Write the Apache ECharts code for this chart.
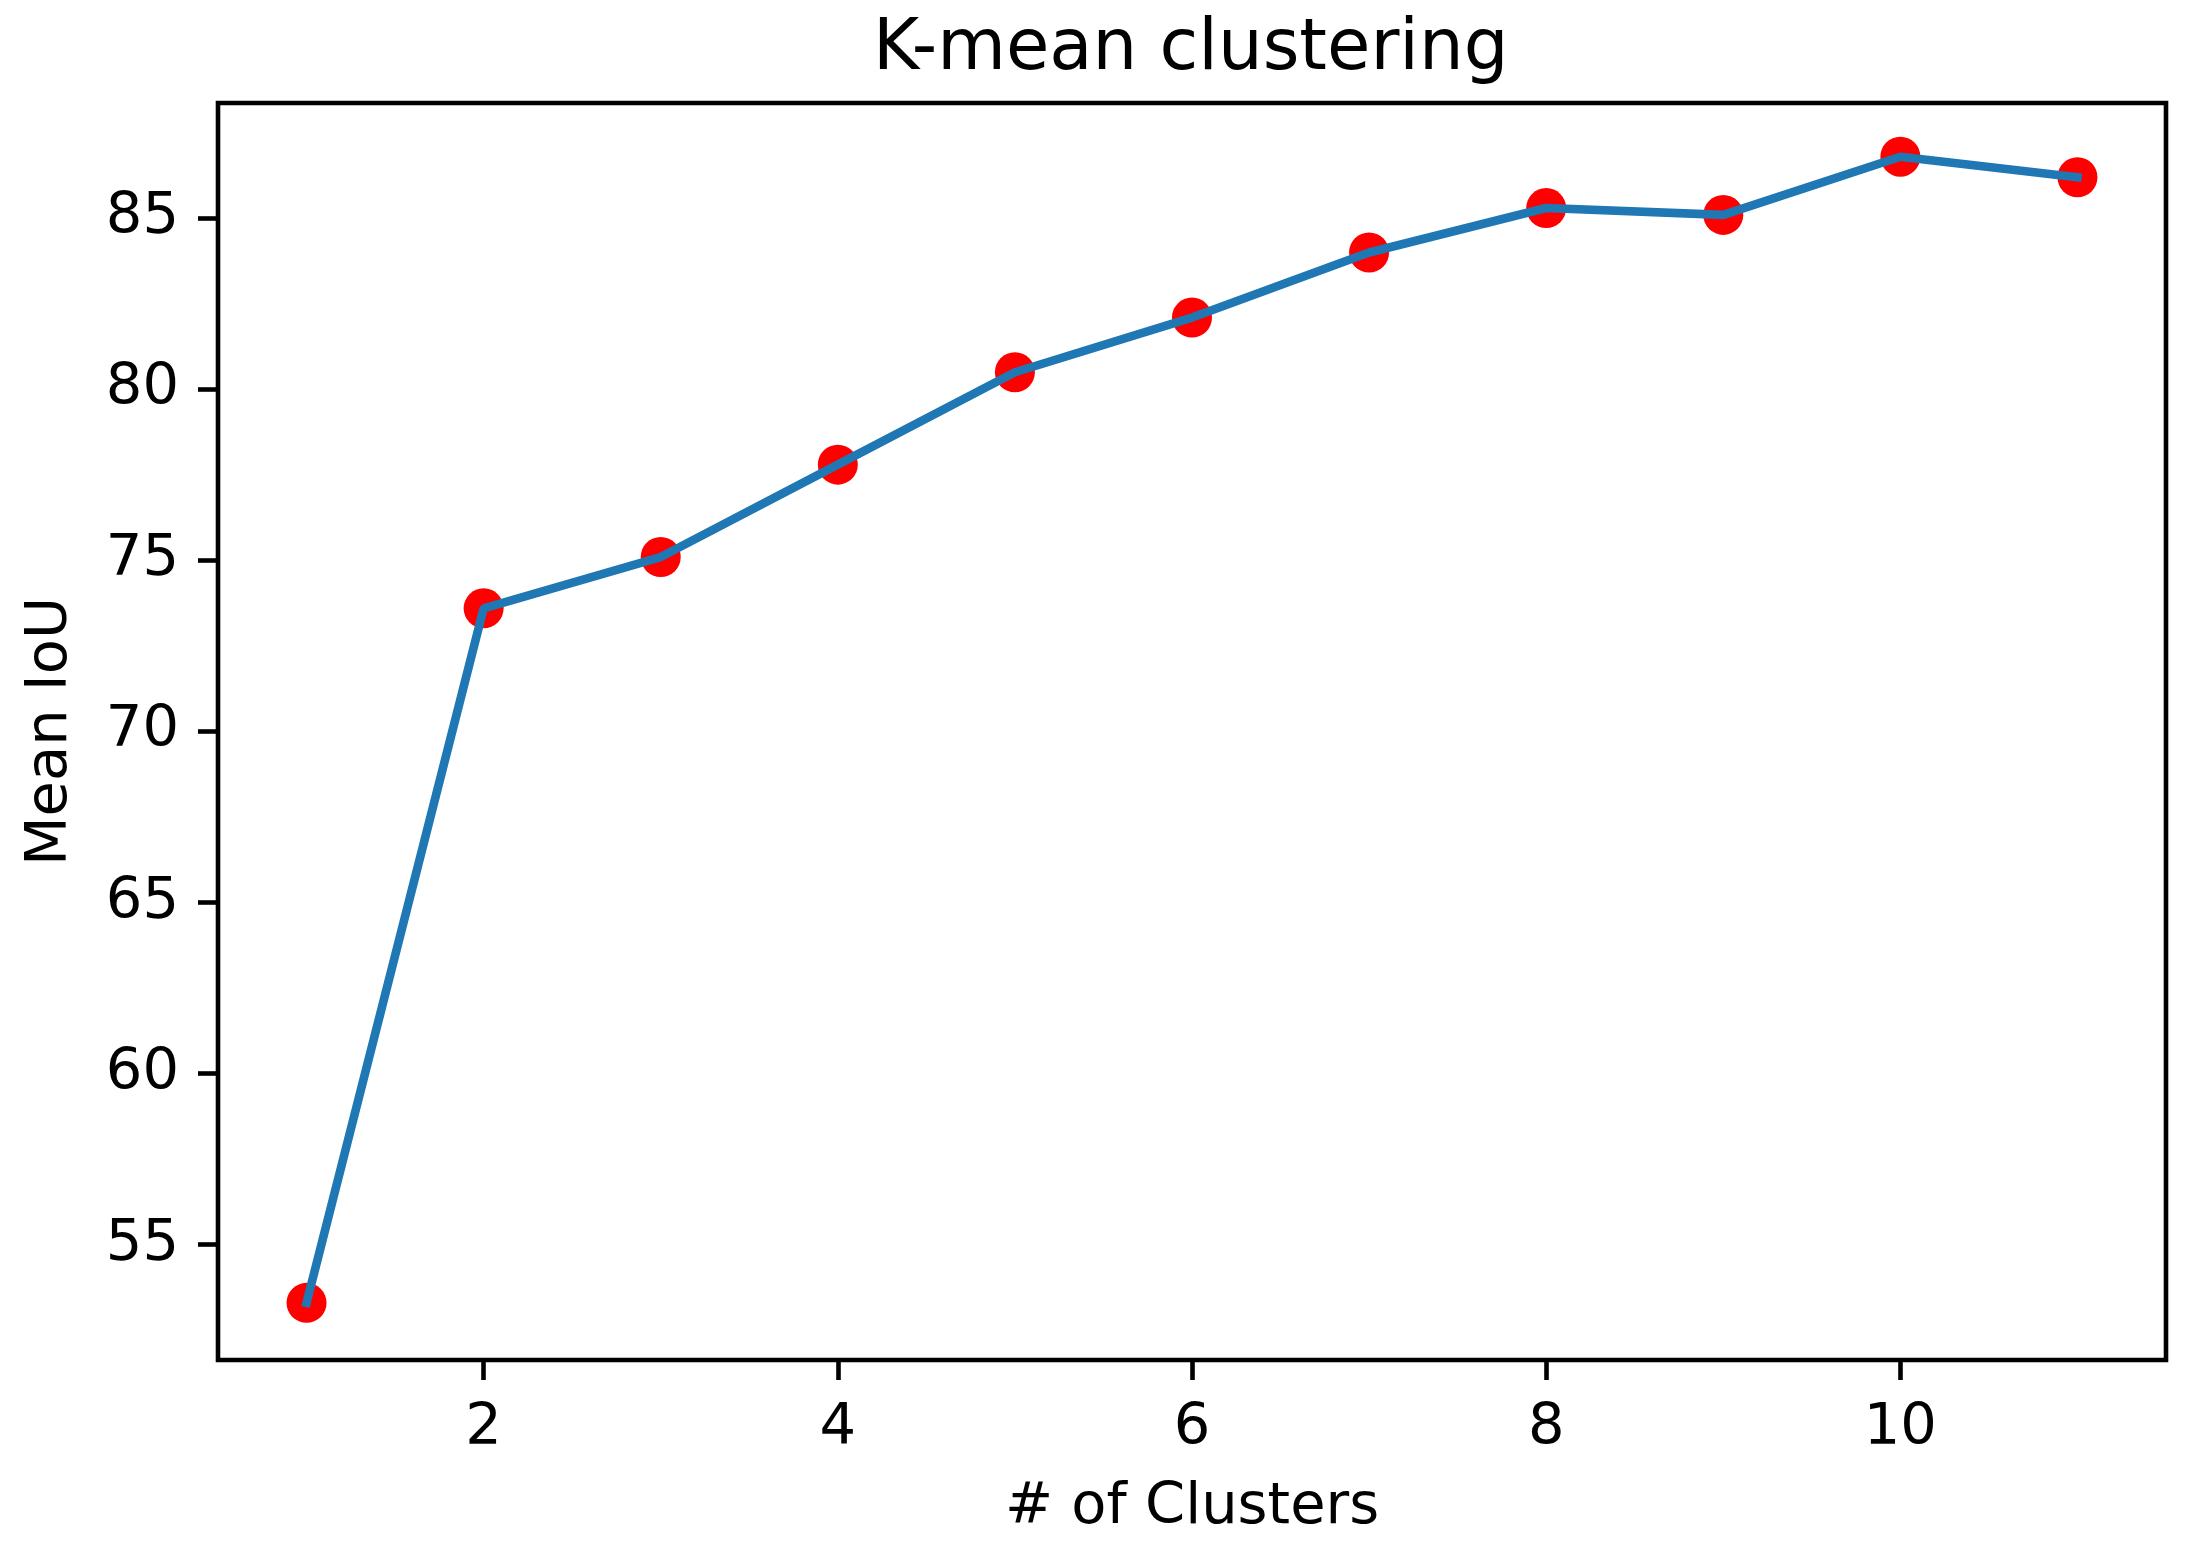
<!DOCTYPE html>
<html>
<head>
<meta charset="utf-8">
<script src="https://cdn.jsdelivr.net/npm/echarts@6/dist/echarts.min.js"></script>
<style>html,body{margin:0;padding:0;background:#fff;}#c{width:2190px;height:1542px;}</style>
</head>
<body>
<div id="c"></div>
<script>
const clusters = [1, 2, 3, 4, 5, 6, 7, 8, 9, 10, 11];
const meanIoU = [53.3, 73.6, 75.1, 77.8, 80.5, 82.1, 84.0, 85.3, 85.1, 86.8, 86.2];
const xTicks = [2, 4, 6, 8, 10];
const yTicks = [55, 60, 65, 70, 75, 80, 85];
const titleText = 'K-mean clustering';
const xName = '# of Clusters';
const yName = 'Mean IoU';

const pts = clusters.map((c, i) => [c, meanIoU[i]]);
const FONT = 'DejaVu Sans';
const chart = echarts.init(document.getElementById('c'), null, {renderer: 'canvas'});
chart.setOption({
  animation: false,
  backgroundColor: '#ffffff',
  title: {
    text: titleText,
    left: 868, top: 10,
    textStyle: {fontFamily: FONT, fontSize: 70.5, fontWeight: 'normal', color: '#000', lineHeight: 71}
  },
  grid: {left: 218, right: 24, top: 103, bottom: 181, show: true, borderColor: '#000', borderWidth: 4.6, backgroundColor: 'transparent'},
  xAxis: {
    type: 'value', min: 0.5, max: 11.5,
    name: xName, nameLocation: 'middle', nameGap: 119,
    nameTextStyle: {fontFamily: FONT, fontSize: 57.5, color: '#000', lineHeight: 58},
    splitLine: {show: false},
    axisLine: {show: false},
    axisTick: {show: true, customValues: xTicks, length: 20, lineStyle: {color: '#000', width: 4.6}},
    axisLabel: {customValues: xTicks, margin: 40, fontFamily: FONT, fontSize: 57.5, color: '#000', lineHeight: 58}
  },
  yAxis: {
    type: 'value', min: 51.63, max: 88.37,
    name: yName, nameLocation: 'middle', nameGap: 138, nameRotate: 90,
    nameTextStyle: {fontFamily: FONT, fontSize: 57.5, color: '#000', lineHeight: 58},
    splitLine: {show: false},
    axisLine: {show: false},
    axisTick: {show: true, customValues: yTicks, length: 20, lineStyle: {color: '#000', width: 4.6}},
    axisLabel: {customValues: yTicks, margin: 39, fontFamily: FONT, fontSize: 57.5, color: '#000'}
  },
  series: [
    {type: 'scatter', data: pts, symbol: 'circle', symbolSize: 40, itemStyle: {color: '#ff0000', opacity: 1}, z: 2},
    {type: 'line', data: pts, showSymbol: false, symbol: 'none', lineStyle: {color: '#1f77b4', width: 8.6, cap: 'square'}, z: 3}
  ]
});
</script>
</body>
</html>
